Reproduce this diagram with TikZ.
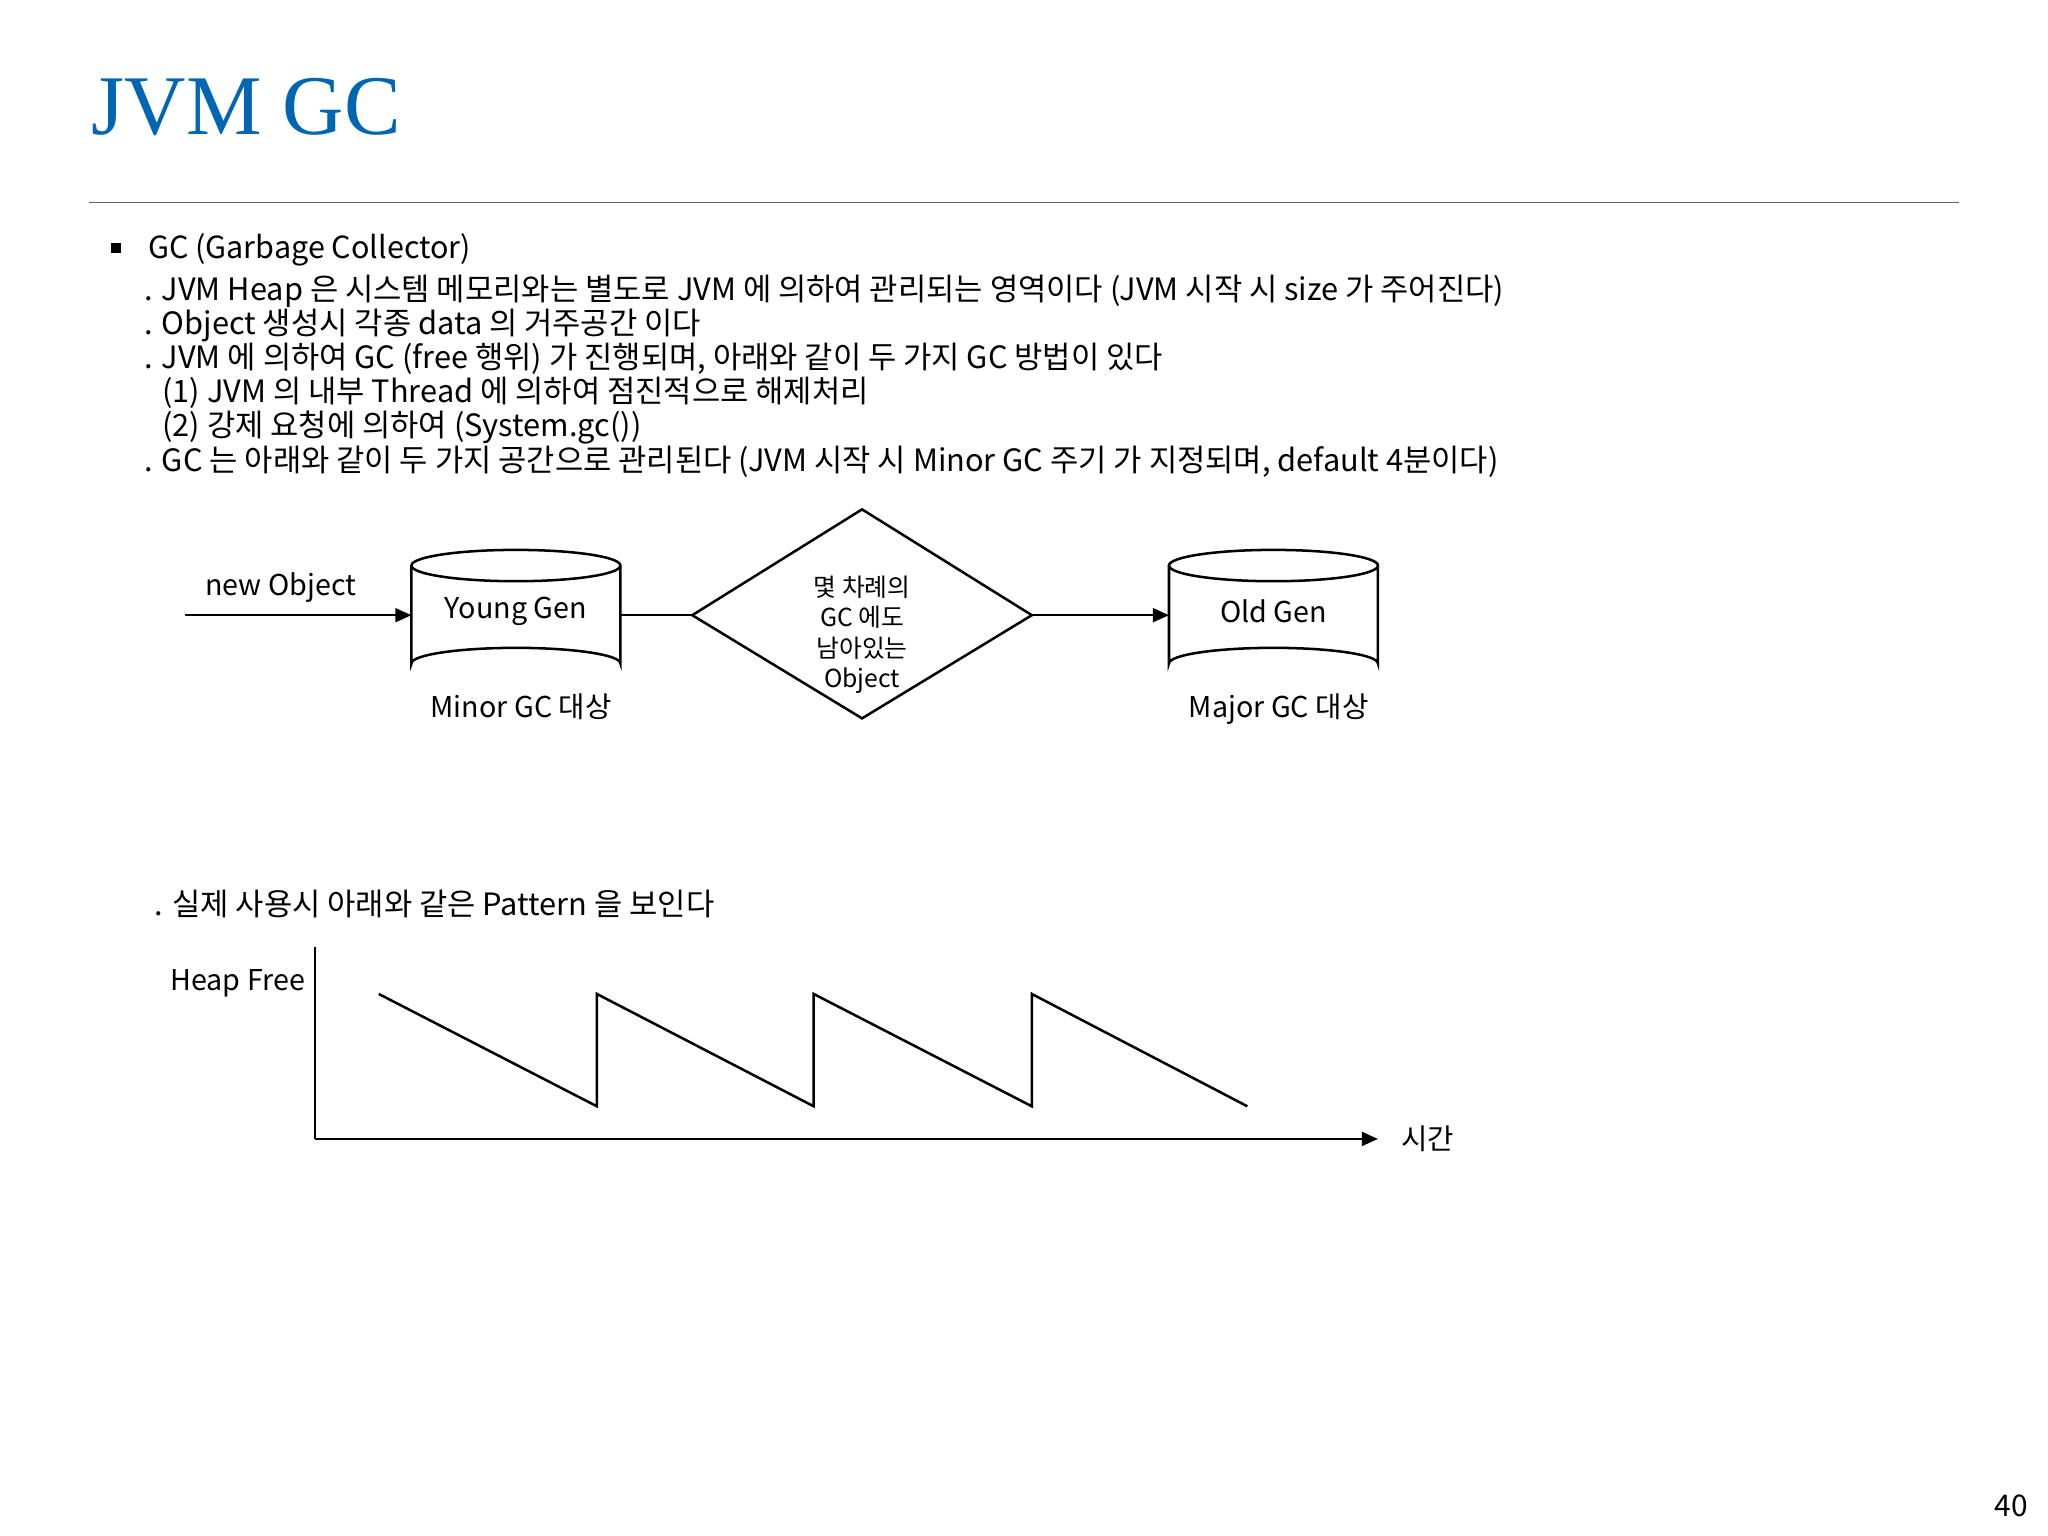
\documentclass[tikz,border=0pt]{standalone}
\usepackage{fontspec}
\setmainfont{Noto Sans CJK KR}
\newfontfamily\titlefont{Liberation Serif}
\usetikzlibrary{arrows.meta}
\definecolor{titleblue}{RGB}{0,102,179}
\begin{document}
\begin{tikzpicture}[x=0.02cm,y=-0.02cm,
  txt/.style={anchor=base west,inner sep=0,font=\fontsize{13.4}{15}\selectfont},
  lbl/.style={inner sep=0,font=\fontsize{12.5}{14}\selectfont},
  ln/.style={line width=1.1pt},
  arr/.style={ln,-{Triangle[length=7pt,width=6pt]}}]
\useasboundingbox (0,0) rectangle (1568,1176);
\node[anchor=base west,inner sep=0,text=titleblue,font=\titlefont\fontsize{37}{38}\selectfont] (title) at (70,103) {JVM GC};
\draw[line width=0.8pt,gray!80!black] (68,155) coordinate (r1) -- (1500,155) coordinate (r2);
\fill (85,186) rectangle (93,194);
\node[txt,font=\fontsize{13.3}{16}\selectfont] (h) at (113,198) {GC (Garbage Collector)};
\node[txt] (l1) at (110,230) {. JVM Heap 은 시스템 메모리와는 별도로 JVM 에 의하여 관리되는 영역이다 (JVM 시작 시 size 가 주어진다)};
\node[txt] (l2) at (110,256) {. Object 생성시 각종 data 의 거주공간 이다};
\node[txt] (l3) at (110,282) {. JVM 에 의하여 GC (free 행위) 가 진행되며, 아래와 같이 두 가지 GC 방법이 있다};
\node[txt] (l4) at (124,308) {(1) JVM 의 내부 Thread 에 의하여 점진적으로 해제처리};
\node[txt] (l5) at (124,334) {(2) 강제 요청에 의하여 (System.gc())};
\node[txt] (l6) at (110,361) {. GC 는 아래와 같이 두 가지 공간으로 관리된다 (JVM 시작 시 Minor GC 주기 가 지정되며, default 4분이다)};
% cylinders
\foreach \nm/\cx in {young/395,old/975}{
  \draw[ln,fill=white] (\cx-80,433) -- (\cx-80,508) arc[start angle=180,end angle=360,x radius=80,y radius=12] -- (\cx+80,433);
  \draw[ln] (\cx,433) ellipse[x radius=80,y radius=12];
  \coordinate (\nm W) at (\cx-80,471);
  \coordinate (\nm E) at (\cx+80,471);
}
\node[lbl] (young) at (395,468) {Young Gen};
\node[lbl] (old) at (975,468) {Old Gen};
\node[lbl] (minor) at (399,541) {Minor GC 대상};
\node[lbl] (major) at (979,543) {Major GC 대상};
% diamond
\draw[ln] (530,471) coordinate (dW) -- (660,390) -- (790,471) coordinate (dE) -- (660,550) -- cycle;
\node[inner sep=0,align=center,font=\fontsize{10.8}{13.3}\selectfont] (dtext) at (660,486) {몇 차례의\\GC 에도\\남아있는\\Object};
\coordinate (start) at (142,471);
\draw[arr] (start) -- (youngW);
\node[lbl] (newobj) at (215,450) {new Object};
\draw[ln] (youngE) -- (dW);
\draw[arr] (dE) -- (oldW);
% pattern
\node[txt] (l7) at (118,701) {. 실제 사용시 아래와 같은 Pattern 을 보인다};
\coordinate (ytop) at (241,725);
\coordinate (org) at (241,872);
\coordinate (xend) at (1055,872);
\draw[ln] (ytop) -- (org);
\draw[arr] (org) -- (xend);
\node[lbl] (heap) at (182,753) {Heap Free};
\node[lbl] (time) at (1093,872) {시간};
\draw[ln] (290,761) -- (457,847) -- (457,761) -- (623,847) -- (623,761) -- (790,847) -- (790,761) -- (955,847);
\node[lbl,font=\fontsize{13}{14}\selectfont] (pg) at (1540,1153) {40};
\end{tikzpicture}
\end{document}
